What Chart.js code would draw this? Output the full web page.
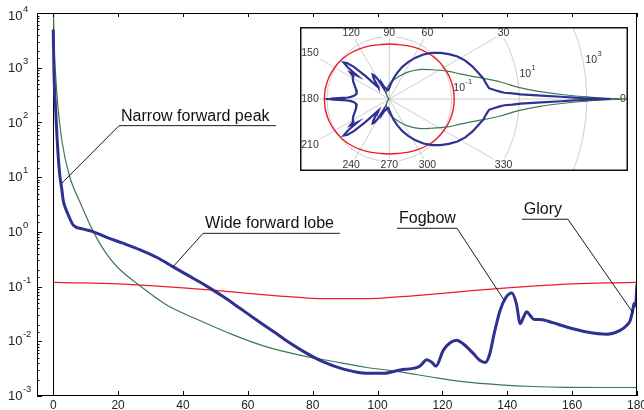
<!DOCTYPE html>
<html><head><meta charset="utf-8">
<script src="https://cdn.jsdelivr.net/npm/chart.js@4.4.1/dist/chart.umd.min.js"></script>
<style>
html,body{margin:0;padding:0;background:#fff;}
#wrap{position:relative;width:644px;height:410px;overflow:hidden;background:#fff;}
#main{position:absolute;left:0;top:0;}
#inset{position:absolute;left:300px;top:27px;background:#fff;}
</style></head><body>
<div id="wrap"><canvas id="main" width="644" height="410"></canvas><canvas id="inset" width="328" height="144"></canvas></div>
<script>
// ---- data (scattering angle in degrees, phase function value) ----
const blueAngles = [0,0.25,0.75,1.25,2,2.6,3.1,3.8,4.7,6.2,9.3,12.4,16.5,21.5,26.8,32,37,42,47.3,52.5,57.6,62.7,67.9,73,78.2,83.3,89.5,96.7,101.8,107,111,113,115.2,116.8,118,120.3,122.5,124.4,126.5,129.5,131.5,133.2,134.5,136,137.8,139.5,141.4,142.8,144,145,146,147.2,148.3,150.1,154,158.3,164.5,170.7,174.8,176.8,177.9,178.6,179.1,179.5,180];
const blueValues = [5000,724,174,44.7,11.2,6.3,3.7,2.7,2.0,1.32,1.12,1.0,0.79,0.62,0.47,0.34,0.229,0.155,0.102,0.065,0.040,0.0245,0.0151,0.0093,0.0060,0.0042,0.0031,0.0026,0.0026,0.0030,0.0032,0.0035,0.0046,0.0041,0.0035,0.0069,0.0095,0.0105,0.0089,0.0060,0.0045,0.0041,0.0056,0.0141,0.037,0.062,0.076,0.049,0.021,0.0275,0.0347,0.0288,0.0251,0.0251,0.0219,0.0182,0.0148,0.0135,0.0158,0.0195,0.024,0.0347,0.049,0.044,0.11];
const greenAngles = [0,0.25,0.75,1.5,2.8,5,8.5,12.4,16,19.6,25.7,35,45,55.5,65.8,76,86.4,96.7,107,117,127.5,137.8,148,158.3,170,180];
const greenValues = [25000,2850,724,184,41.6,10.6,3.22,1.0,0.43,0.233,0.115,0.0459,0.0242,0.0131,0.0079,0.0056,0.00427,0.00332,0.00277,0.0022,0.00179,0.0016,0.00149,0.00144,0.00143,0.00143];
const redAngles = [0,10,20,30,40,50,60,70,80,90,100,110,120,130,140,150,160,170,180];
const redValues = [0.119,0.117,0.112,0.104,0.095,0.085,0.075,0.067,0.061,0.060,0.061,0.067,0.075,0.085,0.095,0.104,0.112,0.117,0.119];
const xTickStep = 20;
const yDecades = [1e-3,1e-2,1e-1,1,10,100,1000,10000];
const polarRings = [0.1, 10, 1000];
const polarSpokes = [0,30,60,90,120,150,180,210,240,270,300,330];
const annotations = [
  {text:'Narrow forward peak', x0:20.3, x1:68.7, y:87.3,  tx:2.7,   ty:7.8},
  {text:'Wide forward lobe',   x0:46.2, x1:88.4, y:0.94,  tx:36.9,  ty:0.228},
  {text:'Fogbow',              x0:106,  x1:124.5,y:1.163, tx:139,   ty:0.0568},
  {text:'Glory',               x0:144.5,x1:158.7,y:1.70,  tx:178.8, ty:0.0329}
];

const FONT = 'Arial, "Liberation Sans", sans-serif';
const BLUE = '#2e3192', GREEN = '#3a7a52', RED = '#ed1c24';
const toXY = (a, v) => a.map((x, i) => ({x, y: v[i]}));

function line(ctx, x1, y1, x2, y2){ ctx.beginPath(); ctx.moveTo(x1, y1); ctx.lineTo(x2, y2); ctx.stroke(); }
// draws "10" followed by a raised exponent, left edge at x, "10" vertically centred on y
function drawPow(ctx, e, x, y, baseSize, supSize, color){
  ctx.save();
  ctx.fillStyle = color; ctx.textAlign = 'left'; ctx.textBaseline = 'middle';
  ctx.font = baseSize + 'px ' + FONT;
  ctx.fillText('10', x, y);
  const w = ctx.measureText('10').width;
  ctx.font = supSize + 'px ' + FONT;
  ctx.fillText(String(e), x + w + 0.5, y - baseSize * 0.55);
  ctx.restore();
}

const framePlugin = {
  id: 'frame',
  beforeDatasetsDraw(chart){
    const {ctx, chartArea: a, scales: {x}} = chart;
    ctx.save(); ctx.strokeStyle = '#000'; ctx.lineWidth = 1;
    const x0 = Math.round(x.getPixelForValue(0)) + 0.5;
    line(ctx, x0, a.top, x0, a.bottom);
    ctx.restore();
  },
  afterDatasetsDraw(chart){
    const {ctx, chartArea: a, scales: {x, y}} = chart;
    ctx.save(); ctx.strokeStyle = '#000'; ctx.lineWidth = 1;
    ctx.strokeRect(Math.round(a.left) + 0.5, Math.round(a.top) + 0.5, Math.round(a.width) - 1, Math.round(a.height) - 1);
    x.ticks.forEach(t => {
      const px = Math.round(x.getPixelForValue(t.value)) + 0.5;
      line(ctx, px, a.bottom, px, a.bottom - 5);
      line(ctx, px, a.top, px, a.top + 4);
    });
    y.ticks.forEach(t => {
      const e = Math.log10(t.value);
      const major = Math.abs(e - Math.round(e)) < 1e-6;
      const py = Math.round(y.getPixelForValue(t.value)) + 0.5;
      line(ctx, a.left, py, a.left + (major ? 5 : 2.5), py);
    });
    ctx.restore();
    // y-axis labels 10^n
    yDecades.forEach(v => {
      const e = Math.round(Math.log10(v));
      const py = Math.max(y.getPixelForValue(v), 16);
      drawPow(ctx, e, 8, py + 0.5, 13, 9.5, '#222');
    });
  },
  afterDraw(chart){
    const {ctx, scales: {x, y}} = chart;
    ctx.save();
    ctx.strokeStyle = '#000'; ctx.lineWidth = 0.9; ctx.fillStyle = '#111';
    ctx.font = '16px ' + FONT; ctx.textBaseline = 'alphabetic'; ctx.textAlign = 'left';
    annotations.forEach(an => {
      const ux0 = x.getPixelForValue(an.x0), ux1 = x.getPixelForValue(an.x1), uy = y.getPixelForValue(an.y);
      const tx = x.getPixelForValue(an.tx), ty = y.getPixelForValue(an.ty);
      line(ctx, ux0, uy, ux1, uy);
      const sx = an.tx < an.x0 ? ux0 : ux1;
      line(ctx, sx, uy, tx, ty);
      ctx.fillText(an.text, ux0 + 2, uy - 5);
    });
    ctx.restore();
  }
};

new Chart(document.getElementById('main'), {
  type: 'scatter',
  data: {datasets: [
    {label: 'Fog droplets', data: toXY(blueAngles, blueValues), showLine: true, borderColor: BLUE, borderWidth: 3, pointRadius: 0, cubicInterpolationMode: 'monotone'},
    {label: 'Forward-peaked model', data: toXY(greenAngles, greenValues), showLine: true, borderColor: GREEN, borderWidth: 1.2, pointRadius: 0, cubicInterpolationMode: 'monotone'},
    {label: 'Rayleigh', data: toXY(redAngles, redValues), showLine: true, borderColor: RED, borderWidth: 1.3, pointRadius: 0, cubicInterpolationMode: 'monotone'}
  ]},
  options: {
    responsive: false, animation: false,
    layout: {padding: {top: 13, right: 7, left: 0, bottom: 0}},
    plugins: {legend: {display: false}, tooltip: {enabled: false}},
    scales: {
      x: {type: 'linear', min: -5, max: 180,
          ticks: {stepSize: xTickStep, includeBounds: false, maxRotation: 0, color: '#222', padding: 2, font: {family: FONT, size: 12}},
          grid: {display: false, drawTicks: false}, border: {display: false},
          afterFit(s){ s.height = 14; s.paddingLeft = 0; s.paddingRight = 0; }},
      y: {type: 'logarithmic', min: yDecades[0], max: yDecades[yDecades.length - 1],
          ticks: {display: false, autoSkip: false},
          grid: {display: false, drawTicks: false}, border: {display: false},
          afterFit(s){ s.width = 37; s.paddingTop = 0; s.paddingBottom = 0; }}
    }
  },
  plugins: [framePlugin]
});

// ---- inset: same curves in polar form (radius = log10 value above the centre level) ----
const POLAR_MIN_LOG = -2.85;
function polarPoints(angles, values){
  const pts = [];
  const r = i => Math.max(Math.log10(values[i]) - POLAR_MIN_LOG, 0);
  for (let i = 0; i < angles.length; i++){ const t = angles[i] * Math.PI / 180; pts.push({x: r(i) * Math.cos(t), y: r(i) * Math.sin(t)}); }
  for (let i = angles.length - 1; i >= 0; i--){ const t = angles[i] * Math.PI / 180; pts.push({x: r(i) * Math.cos(t), y: -r(i) * Math.sin(t)}); }
  return pts;
}
const polarPlugin = {
  id: 'polar',
  beforeDatasetsDraw(chart){
    const {ctx, scales: {x, y}, width: W, height: H} = chart;
    const cx = x.getPixelForValue(0), cy = y.getPixelForValue(0);
    const k = x.getPixelForValue(1) - cx;
    ctx.save();
    ctx.strokeStyle = '#c8c8c8'; ctx.lineWidth = 0.9;
    polarRings.forEach(v => { const rr = (Math.log10(v) - POLAR_MIN_LOG) * k; ctx.beginPath(); ctx.arc(cx, cy, rr, 0, Math.PI * 2); ctx.stroke(); });
    const L = 10, R = W - 5, T = 6, B = H - 6;
    ctx.font = '10.5px ' + FONT; ctx.textAlign = 'center'; ctx.textBaseline = 'middle';
    const labels = [];
    polarSpokes.forEach(a => {
      const t = a * Math.PI / 180, dx = Math.cos(t), dy = -Math.sin(t);
      let s = Infinity;
      if (dx > 1e-9) s = Math.min(s, (R - cx) / dx); if (dx < -1e-9) s = Math.min(s, (L - cx) / dx);
      if (dy > 1e-9) s = Math.min(s, (B - cy) / dy); if (dy < -1e-9) s = Math.min(s, (T - cy) / dy);
      const px = cx + dx * s, py = cy + dy * s;
      line(ctx, cx, cy, px, py);
      labels.push([String(a), px, py]);
    });
    labels.forEach(([txt, px, py]) => {
      const w = ctx.measureText(txt).width;
      ctx.fillStyle = '#fff'; ctx.fillRect(px - w / 2 - 1, py - 6, w + 2, 12);
      ctx.fillStyle = '#333'; ctx.fillText(txt, px, py);
    });
    ctx.restore();
    polarRings.forEach(v => {
      const rr = (Math.log10(v) - POLAR_MIN_LOG) * k, t = 12 * Math.PI / 180;
      drawPow(ctx, Math.round(Math.log10(v)), cx + rr * Math.cos(t) + 3, cy - rr * Math.sin(t) + 2, 10.5, 7.5, '#333');
    });
  },
  afterDraw(chart){
    const {ctx, width: W, height: H} = chart;
    ctx.save(); ctx.strokeStyle = '#111'; ctx.lineWidth = 1.5;
    ctx.strokeRect(0.75, 0.75, W - 1.5, H - 1.5);
    ctx.restore();
  }
};
const PX_PER_DECADE = 33.75, CX = 89.3, CY = 72;
new Chart(document.getElementById('inset'), {
  type: 'scatter',
  data: {datasets: [
    {data: polarPoints(blueAngles, blueValues), showLine: true, borderColor: BLUE, borderWidth: 2.2, pointRadius: 0},
    {data: polarPoints(greenAngles, greenValues), showLine: true, borderColor: GREEN, borderWidth: 1.2, pointRadius: 0, tension: 0.3},
    {data: polarPoints(redAngles, redValues), showLine: true, borderColor: RED, borderWidth: 1.4, pointRadius: 0, tension: 0.4}
  ]},
  options: {
    responsive: false, animation: false,
    layout: {padding: 0},
    plugins: {legend: {display: false}, tooltip: {enabled: false}},
    scales: {
      x: {type: 'linear', display: false, min: -CX / PX_PER_DECADE, max: (328 - CX) / PX_PER_DECADE},
      y: {type: 'linear', display: false, min: -CY / PX_PER_DECADE, max: CY / PX_PER_DECADE}
    }
  },
  plugins: [polarPlugin]
});
</script>
</body></html>
